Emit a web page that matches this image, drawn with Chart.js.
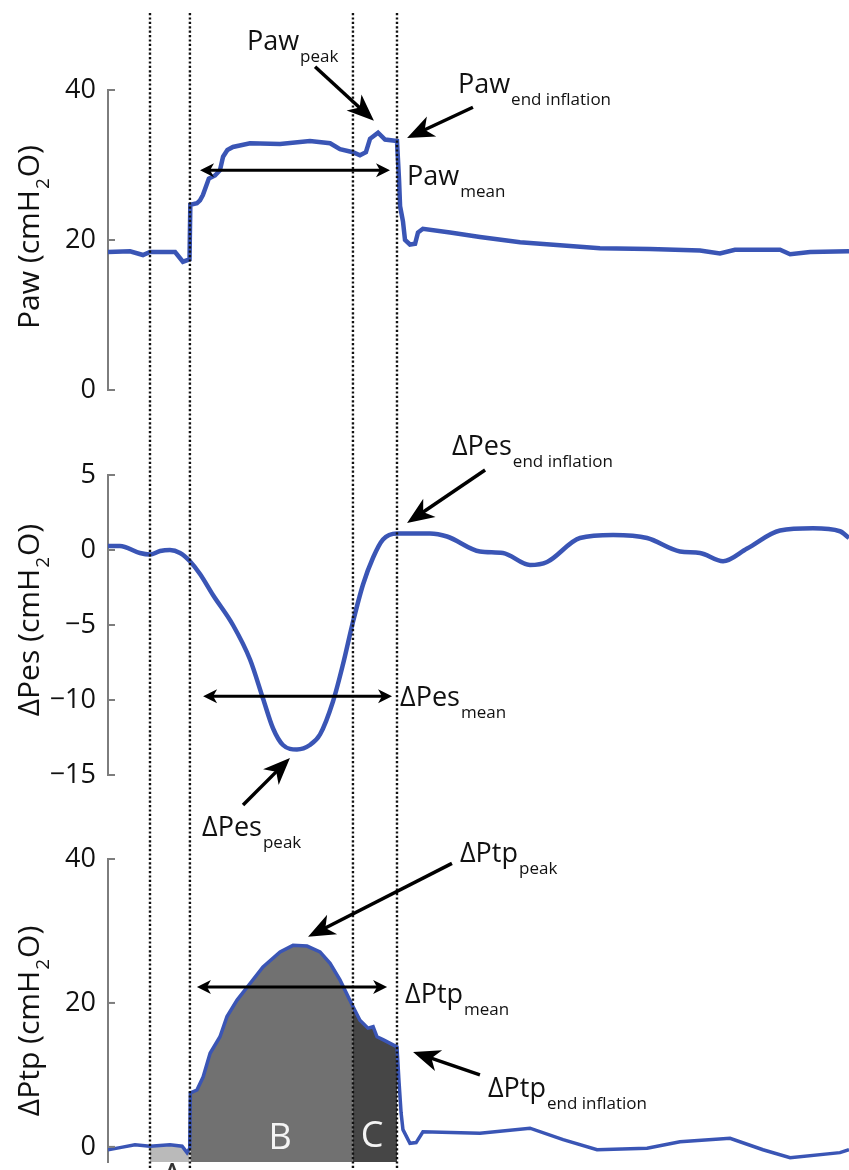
<!DOCTYPE html>
<html>
<head>
<meta charset="utf-8">
<script src="https://cdn.jsdelivr.net/npm/chart.js@4.4.1/dist/chart.umd.min.js"></script>
<style>
  body { margin: 0; background: #fff; }
  canvas { display: block; }
</style>
</head>
<body>
<canvas id="chart" width="849" height="1170"></canvas>
<script>
// time in seconds, pressures in cmH2O
var pawTime = [0, 0.107, 0.170, 0.204, 0.326, 0.364, 0.396, 0.400, 0.432, 0.447, 0.461, 0.490, 0.520, 0.544, 0.559, 0.580, 0.607, 0.690, 0.836, 0.981, 1.079, 1.127, 1.190, 1.224, 1.253, 1.273, 1.312, 1.346, 1.404, 1.414, 1.419, 1.433, 1.443, 1.467, 1.492, 1.506, 1.530, 1.662, 1.807, 2.002, 2.196, 2.390, 2.633, 2.876, 2.973, 3.046, 3.265, 3.314, 3.411, 3.600];
var pawValues = [18.4, 18.5, 18.0, 18.4, 18.4, 17.1, 17.4, 24.7, 24.9, 25.3, 26.0, 28.2, 28.6, 29.3, 31.1, 32.0, 32.4, 32.9, 32.8, 33.2, 32.9, 32.1, 31.7, 31.3, 31.7, 33.5, 34.3, 33.4, 33.2, 28.0, 24.5, 22.5, 20.0, 19.4, 19.5, 21.0, 21.5, 21.0, 20.4, 19.7, 19.3, 18.9, 18.8, 18.6, 18.2, 18.7, 18.7, 18.1, 18.4, 18.5];

var pesTime = [0, 0.058, 0.155, 0.204, 0.253, 0.301, 0.350, 0.398, 0.447, 0.510, 0.607, 0.690, 0.753, 0.802, 0.850, 0.918, 0.981, 1.030, 1.093, 1.142, 1.190, 1.239, 1.288, 1.336, 1.404, 1.564, 1.647, 1.807, 1.919, 2.050, 2.133, 2.293, 2.454, 2.619, 2.779, 2.876, 2.988, 3.105, 3.265, 3.425, 3.556, 3.600];
var pesValues = [0.27, 0.27, -0.2, -0.3, -0.07, 0.0, -0.2, -0.75, -1.6, -3.0, -5.0, -7.3, -9.9, -11.9, -13.0, -13.3, -13.0, -12.3, -10.1, -7.6, -4.8, -2.3, -0.5, 0.7, 1.1, 1.1, 0.9, -0.1, -0.2, -1.0, -0.8, 0.8, 1.0, 0.8, -0.1, -0.2, -0.75, 0.1, 1.3, 1.45, 1.25, 0.8];

var ptpTime = [0, 0.058, 0.131, 0.204, 0.301, 0.360, 0.384, 0.397, 0.400, 0.432, 0.462, 0.496, 0.544, 0.578, 0.627, 0.690, 0.753, 0.836, 0.899, 0.967, 1.030, 1.079, 1.127, 1.190, 1.224, 1.263, 1.288, 1.307, 1.336, 1.404, 1.414, 1.424, 1.433, 1.467, 1.497, 1.530, 1.807, 2.050, 2.211, 2.376, 2.619, 2.779, 3.022, 3.182, 3.314, 3.556, 3.600];
var ptpValues = [-0.4, -0.1, 0.3, 0.1, 0.3, 0.1, -0.8, -0.2, 7.5, 7.9, 9.7, 13.0, 15.3, 18.1, 20.4, 22.7, 25.0, 27.1, 28.0, 27.9, 27.1, 25.5, 23.2, 19.5, 17.6, 16.5, 16.7, 15.3, 14.9, 13.9, 9.0, 4.7, 2.4, 0.5, 0.6, 2.1, 1.9, 2.6, 1.0, -0.4, -0.2, 0.7, 1.2, -0.4, -1.5, -0.8, -0.4];

// phase boundaries (s) and the areas between them
var phaseLines = [0.204, 0.398, 1.19, 1.404];
var regionNames = ['A', 'B', 'C'];
var regionColors = ['#bababa', '#717171', '#464646'];

// mean levels marked by the double arrows
var meanLevels = [29.3, -9.75, 22.2];

var pawTicks = [0, 20, 40];
var pesTicks = [-15, -10, -5, 0, 5];
var ptpTicks = [0, 20, 40];

var blue = '#3a55b5';
var ink = '#111';
var font = 'Open Sans';

function toPoints(ts, vs) {
    return ts.map(function (t, i) { return {x: t, y: vs[i]}; });
}
function between(points, a, b) {
    return points.filter(function (p) { return p.x >= a && p.x <= b; });
}
function fmt(v) {
    return v < 0 ? '\u2212' + Math.abs(v) : String(v);
}

var ptpPoints = toPoints(ptpTime, ptpValues);

function yAxis(weight, stackWeight, min, max, ticks) {
    return {
        type: 'linear',
        position: 'left',
        stack: 'panels',
        stackWeight: stackWeight,
        weight: weight,
        min: min,
        max: max,
        grid: {display: false, drawTicks: false},
        border: {display: true, color: '#7d7d7d', width: 2},
        ticks: {
            font: {family: font, size: 27},
            color: ink,
            padding: 12,
            autoSkip: false,
            callback: function (v) { return fmt(v); }
        },
        afterBuildTicks: function (s) {
            s.ticks = ticks.map(function (v) { return {value: v}; });
        },
        afterFit: function (s) {
            s.width = 108;
            s.paddingTop = 0;
            s.paddingBottom = 0;
        }
    };
}
function gapAxis(weight, stackWeight) {
    return {type: 'linear', position: 'left', stack: 'panels', stackWeight: stackWeight, weight: weight, display: false};
}

// labels drawn over the traces
var notes = [
    {axis: 'paw', main: 'Paw', sub: 'peak', at: [0.675, 45.3], from: [1.006, 43.1], to: [1.292, 35.9]},
    {axis: 'paw', main: 'Paw', sub: 'end inflation', at: [1.700, 39.6], from: [1.773, 37.7], to: [1.453, 33.6]},
    {axis: 'paw', main: 'Paw', sub: 'mean', at: [1.453, 27.3]},
    {axis: 'pes', main: '\u0394Pes', sub: 'end inflation', at: [1.671, 6.33], from: [1.832, 5.33], to: [1.453, 1.8]},
    {axis: 'pes', main: '\u0394Pes', sub: 'mean', at: [1.419, -10.4]},
    {axis: 'pes', main: '\u0394Pes', sub: 'peak', at: [0.457, -19.07], from: [0.656, -17.0], to: [0.884, -13.87]},
    {axis: 'ptp', main: '\u0394Ptp', sub: 'peak', at: [1.710, 39.6], from: [1.671, 39.4], to: [0.972, 29.2]},
    {axis: 'ptp', main: '\u0394Ptp', sub: 'mean', at: [1.443, 20.0]},
    {axis: 'ptp', main: '\u0394Ptp', sub: 'end inflation', at: [1.846, 6.94], from: [1.807, 10.0], to: [1.482, 13.2]}
];
var spans = [
    {axis: 'paw', from: 0.447, to: 1.370},
    {axis: 'pes', from: 0.462, to: 1.380},
    {axis: 'ptp', from: 0.432, to: 1.356}
];
var titles = [
    {axis: 'paw', parts: ['Paw (cmH', '2', 'O)'], at: 20.4},
    {axis: 'pes', parts: ['\u0394Pes (cmH', '2', 'O)'], at: -4.67},
    {axis: 'ptp', parts: ['\u0394Ptp (cmH', '2', 'O)'], at: 17.5}
];
var regionLabels = [
    {text: 'A', at: [0.311, -1.9], color: '#333', base: 'top'},
    {text: 'B', at: [0.836, 1.1], color: '#f4f4f4', base: 'middle'},
    {text: 'C', at: [1.283, 1.4], color: '#f4f4f4', base: 'middle'}
];

function head(ctx, x1, y1, x2, y2, len, half) {
    var a = Math.atan2(y2 - y1, x2 - x1);
    ctx.save();
    ctx.translate(x2, y2);
    ctx.rotate(a);
    ctx.beginPath();
    ctx.moveTo(0, 0);
    ctx.lineTo(-len, -half);
    ctx.lineTo(-len * 0.72, 0);
    ctx.lineTo(-len, half);
    ctx.closePath();
    ctx.fill();
    ctx.restore();
}
function subText(ctx, x, y, main, sub) {
    ctx.font = '27px "' + font + '"';
    ctx.fillText(main, x, y);
    var w = ctx.measureText(main).width;
    ctx.font = '17px "' + font + '"';
    ctx.fillText(sub, x + w + 1, y + 12);
}

var overlay = {
    id: 'overlay',
    afterDatasetsDraw: function (chart) {
        var ctx = chart.ctx;
        var xs = chart.scales.x;
        function px(axis, t, v) {
            return [xs.getPixelForValue(t), chart.scales[axis].getPixelForValue(v)];
        }
        ctx.save();
        // dotted phase lines
        ctx.strokeStyle = ink;
        ctx.lineWidth = 2.4;
        ctx.setLineDash([2.2, 2.2]);
        phaseLines.forEach(function (t) {
            var x = xs.getPixelForValue(t);
            ctx.beginPath();
            ctx.moveTo(x, 13);
            ctx.lineTo(x, chart.height);
            ctx.stroke();
        });
        ctx.setLineDash([]);

        // inward tick marks
        ctx.strokeStyle = '#7d7d7d';
        ctx.lineWidth = 2;
        ['paw', 'pes', 'ptp'].forEach(function (id) {
            var s = chart.scales[id];
            s.ticks.forEach(function (tk) {
                var y = s.getPixelForValue(tk.value);
                ctx.beginPath();
                ctx.moveTo(s.right, y);
                ctx.lineTo(s.right + 7, y);
                ctx.stroke();
            });
        });

        // region letters
        ctx.textAlign = 'center';
        regionLabels.forEach(function (r) {
            var p = px('ptp', r.at[0], r.at[1]);
            ctx.fillStyle = r.color;
            ctx.textBaseline = r.base;
            ctx.font = '36px "' + font + '"';
            ctx.fillText(r.text, p[0], p[1]);
        });

        // axis titles
        ctx.fillStyle = ink;
        ctx.textAlign = 'left';
        ctx.textBaseline = 'alphabetic';
        titles.forEach(function (tt) {
            var cy = chart.scales[tt.axis].getPixelForValue(tt.at);
            ctx.font = '30px "' + font + '"';
            var w0 = ctx.measureText(tt.parts[0]).width;
            var w2 = ctx.measureText(tt.parts[2]).width;
            ctx.font = '19px "' + font + '"';
            var w1 = ctx.measureText(tt.parts[1]).width;
            var total = w0 + w1 + w2 + 2;
            ctx.save();
            ctx.translate(39, cy);
            ctx.rotate(-Math.PI / 2);
            var x = -total / 2;
            ctx.font = '30px "' + font + '"';
            ctx.fillText(tt.parts[0], x, 0);
            ctx.font = '19px "' + font + '"';
            ctx.fillText(tt.parts[1], x + w0 + 1, 10);
            ctx.font = '30px "' + font + '"';
            ctx.fillText(tt.parts[2], x + w0 + w1 + 2, 0);
            ctx.restore();
        });

        // mean double arrows
        ctx.strokeStyle = '#000';
        ctx.fillStyle = '#000';
        ctx.lineWidth = 3;
        spans.forEach(function (sp, i) {
            var a = px(sp.axis, sp.from, meanLevels[i]);
            var b = px(sp.axis, sp.to, meanLevels[i]);
            ctx.beginPath();
            ctx.moveTo(a[0] + 6, a[1]);
            ctx.lineTo(b[0] - 6, b[1]);
            ctx.stroke();
            head(ctx, b[0], b[1], a[0], a[1], 14, 7);
            head(ctx, a[0], a[1], b[0], b[1], 14, 7);
        });

        // pointer arrows and labels
        notes.forEach(function (n) {
            if (n.from) {
                var f = px(n.axis, n.from[0], n.from[1]);
                var t = px(n.axis, n.to[0], n.to[1]);
                var d = Math.hypot(t[0] - f[0], t[1] - f[1]);
                var k = (d - 16) / d;
                ctx.lineWidth = 3.5;
                ctx.beginPath();
                ctx.moveTo(f[0], f[1]);
                ctx.lineTo(f[0] + (t[0] - f[0]) * k, f[1] + (t[1] - f[1]) * k);
                ctx.stroke();
                head(ctx, f[0], f[1], t[0], t[1], 27, 11);
            }
            var p = px(n.axis, n.at[0], n.at[1]);
            ctx.fillStyle = ink;
            ctx.textAlign = 'left';
            ctx.textBaseline = 'alphabetic';
            subText(ctx, p[0], p[1], n.main, n.sub);
            ctx.fillStyle = '#000';
        });
        ctx.restore();
    }
};

var datasets = [
    {data: toPoints(pawTime, pawValues), yAxisID: 'paw', borderColor: blue, borderWidth: 4.5, pointRadius: 0, fill: false},
    {data: toPoints(pesTime, pesValues), yAxisID: 'pes', borderColor: blue, borderWidth: 4.5, pointRadius: 0, fill: false, cubicInterpolationMode: 'monotone'},
    {data: ptpPoints, yAxisID: 'ptp', borderColor: blue, borderWidth: 3.5, pointRadius: 0, fill: false}
];
regionNames.forEach(function (name, i) {
    datasets.push({
        label: name,
        data: between(ptpPoints, phaseLines[i], phaseLines[i + 1]),
        yAxisID: 'ptp',
        borderColor: 'rgba(0,0,0,0)',
        borderWidth: 0,
        pointRadius: 0,
        backgroundColor: regionColors[i],
        fill: {value: -2.1}
    });
});

new Chart(document.getElementById('chart').getContext('2d'), {
    type: 'line',
    data: {datasets: datasets},
    options: {
        responsive: false,
        animation: false,
        layout: {padding: {top: 90, bottom: 8, left: 0, right: 0}},
        plugins: {legend: {display: false}, tooltip: {enabled: false}},
        scales: {
            x: {type: 'linear', min: 0, max: 3.6, display: false},
            paw: yAxis(5, 300, 0, 40, pawTicks),
            gap1: gapAxis(4, 85),
            pes: yAxis(3, 300, -15, 5, pesTicks),
            gap2: gapAxis(2, 84),
            ptp: yAxis(1, 303, -2.1, 40, ptpTicks)
        }
    },
    plugins: [overlay]
});
</script>
</body>
</html>
